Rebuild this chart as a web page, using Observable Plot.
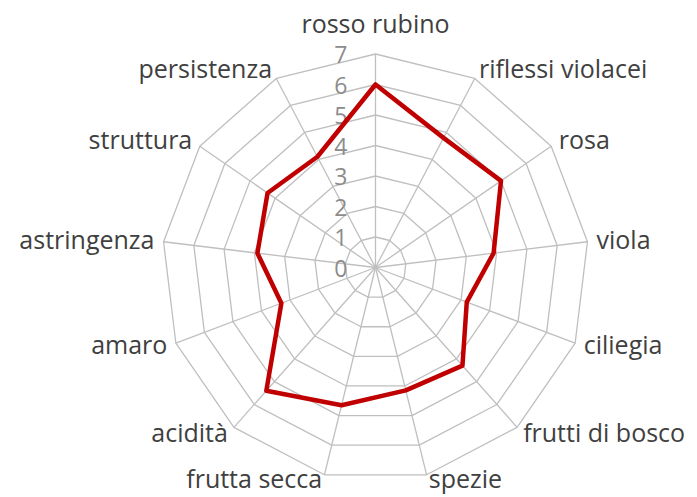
<!DOCTYPE html>
<html><head><meta charset="utf-8">
<script src="https://cdn.jsdelivr.net/npm/d3@7"></script>
<script src="https://cdn.jsdelivr.net/npm/@observablehq/plot@0.6"></script>
<style>body{margin:0;background:#fff;}</style>
</head><body><div id="chart"></div>
<script>
const categories = ["rosso rubino","riflessi violacei","rosa","viola","ciliegia","frutti di bosco","spezie","frutta secca","acidità","amaro","astringenza","struttura","persistenza"];
const values = [6, 4.8, 5, 3.9, 3.2, 4.3, 4.15, 4.65, 5.4, 3.3, 3.9, 4.3, 4.1];
const ticks = [0, 1, 2, 3, 4, 5, 6, 7];

const rMax = d3.max(ticks);
const n = categories.length;
const ang = i => 2 * Math.PI * i / n;
const px = (i, r) => r * Math.sin(ang(i));
const py = (i, r) => r * Math.cos(ang(i));

const rings = ticks.slice(1).flatMap(t => categories.map((c, i) => ({ring: t, x: px(i, t), y: py(i, t)})));
const spokes = categories.map((c, i) => ({x2: px(i, rMax), y2: py(i, rMax)}));
const series = categories.map((c, i) => ({x: px(i, values[i]), y: py(i, values[i])}));
const labR = rMax + 0.3;
const labels = categories.map((c, i) => ({name: c, x: px(i, labR), y: py(i, labR), s: Math.sin(ang(i)), c: Math.cos(ang(i))}));

const unit = 30.5, cx = 375, cy = 267, W = 697, H = 497;
const font = "'Open Sans', 'DejaVu Sans', sans-serif";
const lab = {x: "x", y: "y", text: "name", fill: "#404040", fontSize: 25};

const chart = Plot.plot({
  width: W, height: H,
  margin: 0,
  x: {domain: [-cx / unit, (W - cx) / unit], range: [0, W], axis: null},
  y: {domain: [-(H - cy) / unit, cy / unit], range: [H, 0], axis: null},
  style: {fontFamily: font, background: "#fff"},
  marks: [
    Plot.line(rings, {x: "x", y: "y", z: "ring", curve: "linear-closed", stroke: "#bfbfbf", strokeWidth: 1.3}),
    Plot.link(spokes, {x1: 0, y1: 0, x2: "x2", y2: "y2", stroke: "#bfbfbf", strokeWidth: 1.3}),
    Plot.text(ticks, {x: 0, y: d => d, text: d => String(d), textAnchor: "end", dx: -28, dy: 2, fill: "#8c8c8c", fontSize: 23}),
    Plot.line(series, {x: "x", y: "y", curve: "linear-closed", stroke: "#c00000", strokeWidth: 4.5, strokeLinejoin: "round"}),
    Plot.text(labels.filter(d => Math.abs(d.s) < 1e-6), {...lab, textAnchor: "middle", dy: -20}),
    Plot.text(labels.filter(d => d.s > 1e-6 && d.c > -0.9), {...lab, textAnchor: "start"}),
    Plot.text(labels.filter(d => d.s < -1e-6 && d.c > -0.9), {...lab, textAnchor: "end"}),
    Plot.text(labels.filter(d => d.s > 1e-6 && d.c <= -0.9), {...lab, textAnchor: "start", dy: -4}),
    Plot.text(labels.filter(d => d.s < -1e-6 && d.c <= -0.9), {...lab, textAnchor: "end", dy: -4})
  ]
});
document.getElementById("chart").appendChild(chart);
</script>
</body></html>
